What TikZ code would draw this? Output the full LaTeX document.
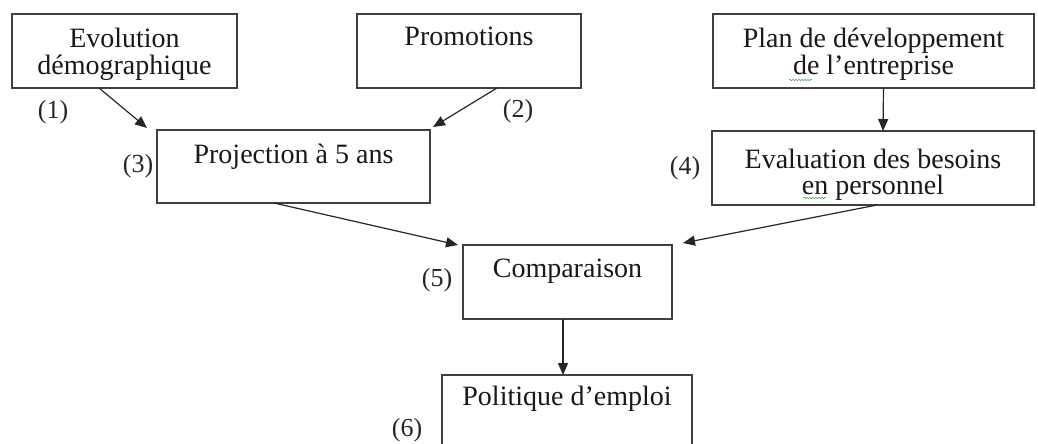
\documentclass[tikz,border=0pt]{standalone}
\usepackage{fontspec}
\setmainfont{Liberation Serif}
\usetikzlibrary{arrows.meta,decorations.pathmorphing}
\newcommand\twolines[2]{\begin{tabular}[t]{@{}c@{}}#1\\#2\end{tabular}}
\begin{document}
\begin{tikzpicture}[x=1pt,y=-1pt,
  box/.style={draw=black!75, line width=1.4pt, rectangle, inner sep=0pt, outer sep=0pt},
  txt/.style={font=\fontsize{28}{25}\selectfont, text=black!90, inner sep=0pt, anchor=base},
  lbl/.style={font=\fontsize{26}{25}\selectfont, text=black!85, inner sep=0pt},
  arr/.style={draw=black!85, line width=1.2pt, -{Triangle[length=12pt,width=10pt]}},
  squig/.style={draw=green!55!black!70, line width=0.6pt, decorate, decoration={snake, amplitude=0.8pt, segment length=3pt}}
]
\useasboundingbox (0,0) rectangle (1038,444);
\clip (0,0) rectangle (1038,444);
\fill[white] (0,0) rectangle (1038,444);

% boxes
\node[box, minimum width=225pt, minimum height=74pt] (b1) at (124.5,51) {};
\node[box, minimum width=224pt, minimum height=74pt] (b2) at (469,51) {};
\node[box, minimum width=321pt, minimum height=74pt] (b3) at (873.5,51) {};
\node[box, minimum width=273pt, minimum height=73pt] (b4) at (293.5,166.5) {};
\node[box, minimum width=322pt, minimum height=74pt] (b5) at (873,168) {};
\node[box, minimum width=209pt, minimum height=74pt] (b6) at (567.5,282) {};
\node[box, minimum width=250pt, minimum height=105pt] (b7) at (567,427.5) {};

% texts
\node[txt] (t1) at (124.5,48) {\twolines{Evolution}{démographique}};
\node[txt] (t2) at (469,46) {Promotions};
\node[txt] (t3) at (873.5,48) {\twolines{Plan de développement}{de l’entreprise}};
\node[txt] (t4) at (293.5,163) {Projection à 5 ans};
\node[txt] (t5) at (873,168) {\twolines{Evaluation des besoins}{en personnel}};
\node[txt] (t6) at (567.5,277) {Comparaison};
\node[txt] (t7) at (567,405) {Politique d’emploi};

% spell-check squiggles
\coordinate (s1a) at (789,80);
\coordinate (s1b) at (812,80);
\coordinate (s2a) at (803,198);
\coordinate (s2b) at (826,198);
\draw[squig] (s1a) -- (s1b);
\draw[squig] (s2a) -- (s2b);

% labels
\node[lbl] (l1) at (53,112) {(1)};
\node[lbl] (l2) at (518,111) {(2)};
\node[lbl] (l3) at (138,166) {(3)};
\node[lbl] (l4) at (685,168) {(4)};
\node[lbl] (l5) at (437,280) {(5)};
\node[lbl] (l6) at (407,430) {(6)};

% connectors
\draw[arr] ([shift={(87,0)}]b1.south west) -- ([shift={(-10,-2)}]b4.north west);
\draw[arr] ([shift={(140,0)}]b2.south west) -- ([shift={(3,-3)}]b4.north east);
\draw[arr] ([shift={(10,0)}]b3.south) -- ([shift={(10,0)}]b5.north);
\draw[arr] ([shift={(117,0)}]b4.south west) -- ([shift={(-5,0)}]b6.north west);
\draw[arr] ([shift={(165,0)}]b5.south west) -- ([shift={(11,-2)}]b6.north east);
\draw[arr] ([shift={(-4.5,0)}]b6.south) -- ([shift={(-4,0)}]b7.north);
\end{tikzpicture}
\end{document}
